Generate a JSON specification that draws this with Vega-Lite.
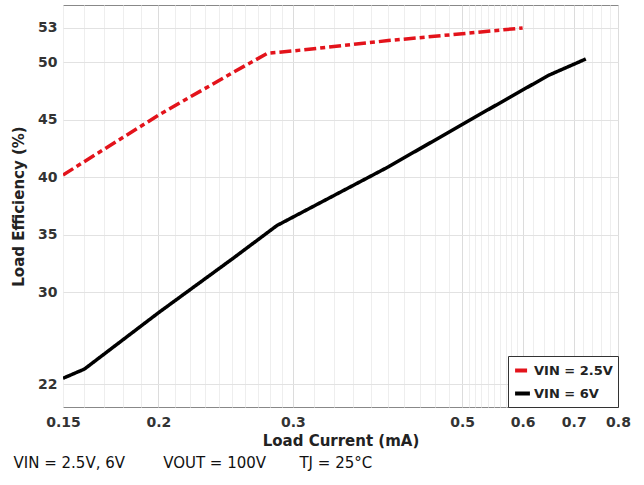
{
  "$schema": "https://vega.github.io/schema/vega-lite/v6.json",
  "width": 555,
  "height": 402,
  "autosize": {"type": "none"},
  "padding": {"left": 63, "top": 5, "right": 26, "bottom": 78},
  "background": "white",
  "config": {
    "view": {"stroke": "#888888", "strokeWidth": 1},
    "font": "DejaVu Sans"
  },
  "title": {
    "text": "VIN = 2.5V, 6V\u00a0\u00a0\u00a0\u00a0\u00a0\u00a0\u00a0\u00a0VOUT = 100V\u00a0\u00a0\u00a0\u00a0\u00a0\u00a0\u00a0TJ = 25°C",
    "orient": "bottom",
    "anchor": "start",
    "frame": "bounds",
    "font": "DejaVu Sans",
    "fontSize": 15,
    "fontWeight": "normal",
    "color": "#111111",
    "offset": 8,
    "dx": 2
  },
  "data": {
    "values": [
      {"series": "VIN = 2.5V", "current": 0.15, "eff": 40.2},
      {"series": "VIN = 2.5V", "current": 0.2, "eff": 45.4},
      {"series": "VIN = 2.5V", "current": 0.25, "eff": 49.1},
      {"series": "VIN = 2.5V", "current": 0.278, "eff": 50.8},
      {"series": "VIN = 2.5V", "current": 0.3, "eff": 51.0},
      {"series": "VIN = 2.5V", "current": 0.4, "eff": 51.9},
      {"series": "VIN = 2.5V", "current": 0.5, "eff": 52.5},
      {"series": "VIN = 2.5V", "current": 0.6, "eff": 53.0},
      {"series": "VIN = 6V", "current": 0.15, "eff": 22.5},
      {"series": "VIN = 6V", "current": 0.16, "eff": 23.3},
      {"series": "VIN = 6V", "current": 0.2, "eff": 28.2},
      {"series": "VIN = 6V", "current": 0.25, "eff": 32.9},
      {"series": "VIN = 6V", "current": 0.286, "eff": 35.8},
      {"series": "VIN = 6V", "current": 0.4, "eff": 40.9},
      {"series": "VIN = 6V", "current": 0.5, "eff": 44.6},
      {"series": "VIN = 6V", "current": 0.6, "eff": 47.6},
      {"series": "VIN = 6V", "current": 0.65, "eff": 48.9},
      {"series": "VIN = 6V", "current": 0.726, "eff": 50.3}
    ]
  },
  "mark": {"type": "line", "strokeWidth": 3.5, "strokeCap": "butt", "clip": true},
  "encoding": {
    "x": {
      "field": "current",
      "type": "quantitative",
      "scale": {"type": "log", "domain": [0.15, 0.8], "nice": false},
      "axis": {
        "title": "Load Current (mA)",
        "titleFont": "DejaVu Sans",
        "titleFontSize": 15,
        "titleFontWeight": "bold",
        "titleColor": "#222222",
        "titlePadding": 4,
        "values": [0.15, 0.16, 0.17, 0.18, 0.19, 0.2, 0.21, 0.22, 0.23, 0.24, 0.25, 0.26, 0.27, 0.28, 0.29, 0.3, 0.32, 0.34, 0.36, 0.38, 0.4, 0.42, 0.44, 0.46, 0.48, 0.5, 0.51, 0.52, 0.53, 0.54, 0.55, 0.56, 0.57, 0.58, 0.59, 0.6, 0.62, 0.64, 0.66, 0.68, 0.7, 0.72, 0.74, 0.76, 0.78, 0.8],
        "labelExpr": "indexof([0.15,0.2,0.3,0.5,0.6,0.7,0.8], datum.value) >= 0 ? datum.value : ''",
        "labelFont": "DejaVu Sans",
        "labelFontSize": 14,
        "labelFontWeight": "bold",
        "labelColor": "#333333",
        "labelPadding": 8,
        "labelOverlap": false,
        "labelFlush": false,
        "ticks": false,
        "domain": false,
        "grid": true,
        "gridColor": {"condition": {"test": "indexof([0.2,0.3,0.5,0.6,0.7,0.8], datum.value) >= 0", "value": "#dcdcdc"}, "value": "#eeeeee"},
        "gridWidth": 1
      }
    },
    "y": {
      "field": "eff",
      "type": "quantitative",
      "scale": {"domain": [20, 55], "nice": false, "zero": false},
      "axis": {
        "title": "Load Efficiency (%)",
        "titleFont": "DejaVu Sans",
        "titleFontSize": 15,
        "titleFontWeight": "bold",
        "titleColor": "#222222",
        "titlePadding": 11,
        "values": [22, 30, 35, 40, 45, 50, 53],
        "labelFont": "DejaVu Sans",
        "labelFontSize": 14,
        "labelFontWeight": "bold",
        "labelColor": "#333333",
        "labelPadding": 6,
        "ticks": false,
        "domain": false,
        "grid": true,
        "gridColor": "#e2e2e2"
      }
    },
    "color": {
      "field": "series",
      "type": "nominal",
      "scale": {"domain": ["VIN = 2.5V", "VIN = 6V"], "range": ["#e3131b", "#000000"]},
      "legend": {
        "title": null,
        "orient": "bottom-right",
        "offset": 0,
        "fillColor": "white",
        "strokeColor": "#333333",
        "padding": 5,
        "rowPadding": 5,
        "symbolType": "stroke",
        "symbolStrokeWidth": 4,
        "symbolSize": 220,
        "labelFont": "DejaVu Sans",
        "labelFontSize": 13,
        "labelFontWeight": "bold",
        "labelColor": "#222222",
        "labelOffset": 2
      }
    },
    "strokeDash": {
      "field": "series",
      "type": "nominal",
      "scale": {"domain": ["VIN = 2.5V", "VIN = 6V"], "range": [[12, 4, 5, 4], [1, 0]]},
      "legend": null
    }
  }
}
